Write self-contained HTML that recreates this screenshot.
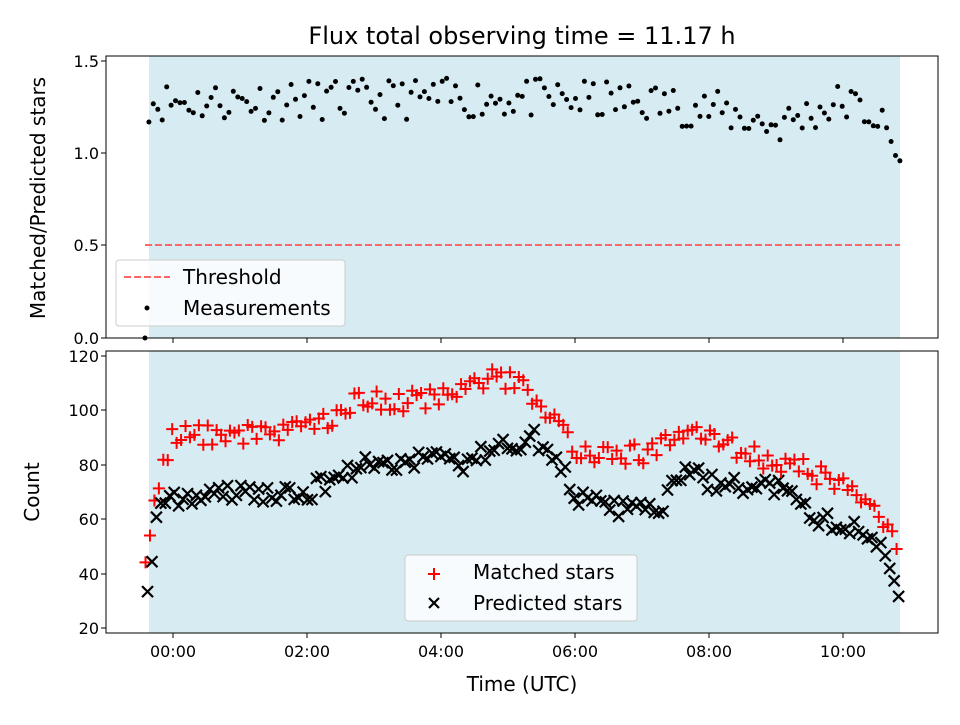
<!DOCTYPE html>
<html><head><meta charset="utf-8"><style>
body{margin:0;background:#fff}
svg text{font-family:"DejaVu Sans","Liberation Sans",sans-serif;fill:#000}
</style></head><body>
<svg id="s" width="960" height="720" xmlns="http://www.w3.org/2000/svg">
<rect width="960" height="720" fill="#fff"/>
<text x="522" y="44" font-size="24" text-anchor="middle">Flux total observing time = 11.17 h</text>
<rect x="149" y="56" width="751" height="282" fill="#add8e6" fill-opacity="0.5"/>
<line x1="145" y1="245" x2="900" y2="245" stroke="#ff6666" stroke-width="2" stroke-dasharray="7,3"/>
<g id="gTop"></g>
<rect x="106" y="56" width="832" height="282" fill="none" stroke="#000" stroke-width="1"/>
<g font-size="16" text-anchor="end">
<text x="99" y="344">0.0</text><text x="99" y="251">0.5</text><text x="99" y="159">1.0</text><text x="99" y="67">1.5</text>
</g>
<g stroke="#000"><line x1="101" y1="338" x2="106" y2="338"/><line x1="101" y1="245" x2="106" y2="245"/><line x1="101" y1="153" x2="106" y2="153"/><line x1="101" y1="61" x2="106" y2="61"/>
<line x1="173" y1="338" x2="173" y2="343"/><line x1="307" y1="338" x2="307" y2="343"/><line x1="441" y1="338" x2="441" y2="343"/><line x1="575" y1="338" x2="575" y2="343"/><line x1="709" y1="338" x2="709" y2="343"/><line x1="843" y1="338" x2="843" y2="343"/></g>
<text transform="translate(45,198) rotate(-90)" font-size="20" text-anchor="middle">Matched/Predicted stars</text>
<rect x="116" y="260" width="229" height="66" rx="3" fill="#fff" fill-opacity="0.8" stroke="#ccc"/>
<line x1="124" y1="277" x2="170" y2="277" stroke="#ff6666" stroke-width="2" stroke-dasharray="7,3"/>
<text x="183" y="284" font-size="20">Threshold</text>
<circle cx="147" cy="308" r="2.5" fill="#000"/>
<text x="183" y="315" font-size="20">Measurements</text>
<rect x="149" y="351" width="751" height="282" fill="#add8e6" fill-opacity="0.5"/>
<g id="gBot"></g>
<rect x="106" y="351" width="832" height="282" fill="none" stroke="#000" stroke-width="1"/>
<g font-size="16" text-anchor="end">
<text x="99" y="634">20</text><text x="99" y="580">40</text><text x="99" y="525">60</text><text x="99" y="471">80</text><text x="99" y="416">100</text><text x="99" y="362">120</text>
</g>
<g stroke="#000"><line x1="101" y1="628" x2="106" y2="628"/><line x1="101" y1="574" x2="106" y2="574"/><line x1="101" y1="519" x2="106" y2="519"/><line x1="101" y1="465" x2="106" y2="465"/><line x1="101" y1="410" x2="106" y2="410"/><line x1="101" y1="356" x2="106" y2="356"/>
<line x1="173" y1="633" x2="173" y2="638"/><line x1="307" y1="633" x2="307" y2="638"/><line x1="441" y1="633" x2="441" y2="638"/><line x1="575" y1="633" x2="575" y2="638"/><line x1="709" y1="633" x2="709" y2="638"/><line x1="843" y1="633" x2="843" y2="638"/></g>
<g font-size="16" text-anchor="middle">
<text x="173" y="657">00:00</text><text x="307" y="657">02:00</text><text x="441" y="657">04:00</text><text x="575" y="657">06:00</text><text x="709" y="657">08:00</text><text x="843" y="657">10:00</text>
</g>
<text x="522" y="691" font-size="20" text-anchor="middle">Time (UTC)</text>
<text transform="translate(39,492) rotate(-90)" font-size="20" text-anchor="middle">Count</text>
<rect x="405" y="555" width="232" height="66" rx="3" fill="#fff" fill-opacity="0.8" stroke="#ccc"/>
<g stroke="red" stroke-width="2"><line x1="428" y1="574" x2="440" y2="574"/><line x1="434" y1="568" x2="434" y2="580"/></g>
<text x="473" y="579" font-size="20">Matched stars</text>
<g stroke="#000" stroke-width="2.2"><line x1="429" y1="598" x2="439" y2="608"/><line x1="429" y1="608" x2="439" y2="598"/></g>
<text x="473" y="610" font-size="20">Predicted stars</text>
</svg>
<script>
(function(){
var NS="http://www.w3.org/2000/svg";
var seed=11;function rnd(){seed=(seed*16807)%2147483647;return seed/2147483647;}
function X(h){return 173+67*h;}
function interp(p,h){for(var i=0;i<p.length-1;i++){if(h<=p[i+1][0]){var t=(h-p[i][0])/(p[i+1][0]-p[i][0]);return p[i][1]+t*(p[i+1][1]-p[i][1]);}}return p[p.length-1][1];}
function el(g,n,a){var e=document.createElementNS(NS,n);for(var k in a)e.setAttribute(k,a[k]);g.appendChild(e);}
var gT=document.getElementById("gTop"),gB=document.getElementById("gBot");
var h0=-0.36,h1=10.85,N=170;
el(gT,"circle",{cx:145,cy:338,r:2.5,fill:"#000"});
var tp=[[-0.36,1.28],[5,1.3],[7,1.28],[8,1.24],[9,1.15],[10,1.28],[10.5,1.2],[10.85,0.96]];
var mp=[[-0.45,40],[-0.36,49],[-0.27,66],[-0.18,80],[0,90],[2,93],[2.7,103],[4,104],[4.8,113],[5.3,108],[5.7,97],[6,86],[6.5,84],[7.2,84],[7.5,93],[8,91],[9,80],[9.5,78],[10,72],[10.5,65],[10.7,56],[10.8,47],[10.87,23]];
var pp=[[-0.36,38],[-0.27,57],[-0.18,64],[0,67],[1,70],[1.9,68],[2.3,74],[2.8,80],[3.5,81],[4,84],[4.3,80],[4.8,86],[5.4,90],[5.8,78],[6.1,67],[6.5,64],[7.3,64],[7.6,78],[8.2,72],[9,72],[9.5,62],[10,57],[10.3,55],[10.5,52],[10.7,44],[10.8,37],[10.87,24]];
for(var i=0;i<N;i++){
 var h=h0+(h1-h0)*i/(N-1);
 var v=interp(tp,h)+(i==N-1?0:(rnd()-0.5)*0.22);
 el(gT,"circle",{cx:X(h).toFixed(1),cy:(338-184.6*v).toFixed(1),r:2.5,fill:"#000"});
}
for(var i=0;i<N;i++){
 var h=h0+(h1-h0)*i/(N-1)-0.05;
 var m=interp(mp,h)+(rnd()-0.5)*8, x=X(h), y=628-2.72*(m-20);
 el(gB,"path",{d:"M"+(x-6)+" "+y+"h12M"+x+" "+(y-6)+"v12",stroke:"red","stroke-width":2});
 var hp=h+0.03,p=interp(pp,hp)+(rnd()-0.5)*7,x2=X(hp),y2=628-2.72*(p-20);
 el(gB,"path",{d:"M"+(x2-5.5)+" "+(y2-5.5)+"l11 11M"+(x2-5.5)+" "+(y2+5.5)+"l11 -11",stroke:"#000","stroke-width":2.2});
}
})();
</script>
</body></html>
